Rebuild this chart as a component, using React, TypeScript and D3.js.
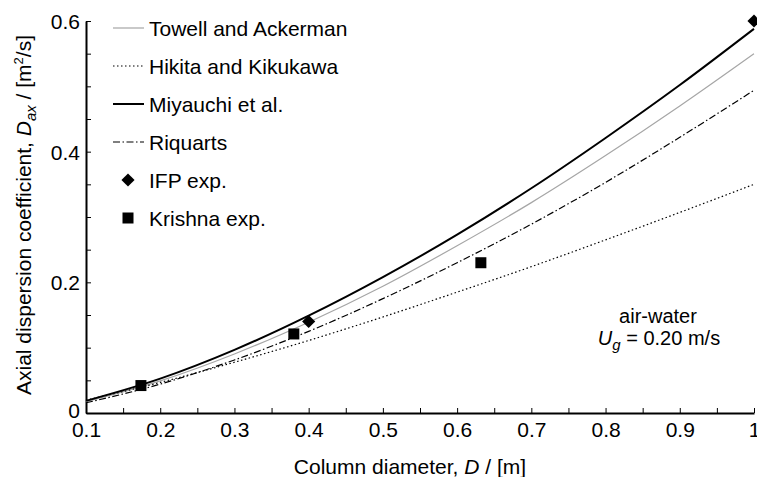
import React, { useEffect, useRef } from 'react';
import * as d3 from 'd3';

// Column diameters (m) at which the correlations were read
const diameters = [0.1, 0.2, 0.3, 0.4, 0.5, 0.6, 0.7, 0.8, 0.9, 1.0];

// Axial dispersion coefficient (m2/s) per correlation
const towellAckerman = [0.0174, 0.0492, 0.0904, 0.139, 0.194, 0.256, 0.322, 0.394, 0.47, 0.55];
const hikitaKikukawa = [0.0197, 0.0468, 0.0777, 0.111, 0.147, 0.185, 0.224, 0.265, 0.307, 0.35];
const miyauchi = [0.0186, 0.0526, 0.0966, 0.149, 0.208, 0.273, 0.344, 0.421, 0.502, 0.588];
const riquarts = [0.0156, 0.0442, 0.0812, 0.125, 0.175, 0.23, 0.289, 0.353, 0.422, 0.494];

// Experimental points
const ifpD = [0.4, 1.0];
const ifpDax = [0.14, 0.6];
const krishnaD = [0.174, 0.38, 0.632];
const krishnaDax = [0.042, 0.121, 0.23];

const xTicks = [0.1, 0.2, 0.3, 0.4, 0.5, 0.6, 0.7, 0.8, 0.9, 1];
const yTicks = [0, 0.2, 0.4, 0.6];

const FONT = 'Liberation Sans, Arial, sans-serif';
const FS = 21;

const App = () => {
  const svgRef = useRef<SVGSVGElement>(null);

  useEffect(() => {
    const W = 757;
    const H = 477;
    const margin = { top: 21, right: 3, bottom: 64, left: 86 };
    const width = W - margin.left - margin.right;
    const height = H - margin.top - margin.bottom;

    d3.select(svgRef.current).selectAll('*').remove();
    const root = d3.select(svgRef.current).attr('width', W).attr('height', H);
    const svg = root.append('g').attr('transform', `translate(${margin.left},${margin.top})`);

    const x = d3.scaleLinear().domain([0.1, 1]).range([0, width]);
    const y = d3.scaleLinear().domain([0, 0.6]).range([height, 0]);

    // Axes with inward ticks
    const xMinor = d3.range(0.15, 1, 0.1);
    const yMinor = d3.range(0.05, 0.6, 0.05).filter(v => Math.abs(v / 0.2 - Math.round(v / 0.2)) > 0.01);

    const xAxis = svg.append('g').attr('transform', `translate(0,${height})`);
    xAxis.call(
      d3.axisBottom(x).tickValues(xTicks).tickSize(-5).tickPadding(0).tickSizeOuter(0)
        .tickFormat(d => d3.format('~g')(d as number))
    );
    xAxis.append('g').call(
      d3.axisBottom(x).tickValues(xMinor).tickSize(-5).tickFormat(() => '').tickSizeOuter(0)
    ).select('.domain').remove();

    const yAxis = svg.append('g');
    yAxis.call(
      d3.axisLeft(y).tickValues(yTicks).tickSize(-5).tickPadding(6).tickSizeOuter(0)
        .tickFormat(d => d3.format('~g')(d as number))
    );
    yAxis.append('g').call(
      d3.axisLeft(y).tickValues(yMinor).tickSize(-5).tickFormat(() => '').tickSizeOuter(0)
    ).select('.domain').remove();

    svg.selectAll('.domain').attr('stroke', '#000').attr('stroke-width', 2);
    svg.selectAll('.tick line').attr('stroke', '#000').attr('stroke-width', 1);
    svg.selectAll('.tick text')
      .attr('font-family', FONT)
      .attr('font-size', FS)
      .attr('fill', '#000');
    xAxis.selectAll('.tick text').attr('y', 24).attr('dy', null);
    yAxis.selectAll('.tick text').attr('dy', d => ((d as number) === 0 ? '0.22em' : '0.35em'));

    // Correlation curves
    const series = [
      { name: 'Towell and Ackerman', values: towellAckerman, color: '#a6a6a6', width: 1.2, dash: null },
      { name: 'Hikita and Kikukawa', values: hikitaKikukawa, color: '#000', width: 1.2, dash: '1.5,2.5' },
      { name: 'Miyauchi et al.', values: miyauchi, color: '#000', width: 2, dash: null },
      { name: 'Riquarts', values: riquarts, color: '#000', width: 1.2, dash: '7,2.5,1.5,2.5' },
    ];

    const line = d3.line<number>()
      .x((_, i) => x(diameters[i]))
      .y(d => y(d))
      .curve(d3.curveMonotoneX);

    series.forEach(s => {
      svg.append('path')
        .datum(s.values)
        .attr('d', line)
        .attr('fill', 'none')
        .attr('stroke', s.color)
        .attr('stroke-width', s.width)
        .attr('stroke-dasharray', s.dash);
    });

    // Experimental markers
    const diamond = d3.symbol().type(d3.symbolDiamond2).size(110);
    svg.selectAll('.ifp')
      .data(ifpD)
      .enter()
      .append('path')
      .attr('d', diamond)
      .attr('transform', (d, i) => `translate(${x(d)},${y(ifpDax[i])})`)
      .attr('fill', '#000');

    svg.selectAll('.kr')
      .data(krishnaD)
      .enter()
      .append('rect')
      .attr('x', d => x(d) - 5.5)
      .attr('y', (d, i) => y(krishnaDax[i]) - 5.5)
      .attr('width', 11)
      .attr('height', 11)
      .attr('fill', '#000');

    // Legend
    const legend = root.append('g').attr('font-family', FONT).attr('font-size', FS);
    const rows = [
      ...series.map(s => ({ ...s, kind: 'line' })),
      { name: 'IFP exp.', kind: 'diamond' },
      { name: 'Krishna exp.', kind: 'square' },
    ] as any[];
    rows.forEach((r, i) => {
      const ry = 28 + i * 38;
      if (r.kind === 'line') {
        legend.append('line')
          .attr('x1', 113).attr('x2', 144).attr('y1', ry).attr('y2', ry)
          .attr('stroke', r.color).attr('stroke-width', r.width)
          .attr('stroke-dasharray', r.dash);
      } else if (r.kind === 'diamond') {
        legend.append('path').attr('d', diamond).attr('transform', `translate(128,${ry})`).attr('fill', '#000');
      } else {
        legend.append('rect').attr('x', 122.5).attr('y', ry - 5.5).attr('width', 11).attr('height', 11).attr('fill', '#000');
      }
      legend.append('text').attr('x', 149).attr('y', ry + 7.5).text(r.name);
    });

    // Annotation
    const ann = root.append('g').attr('font-family', FONT).attr('font-size', 20).attr('text-anchor', 'middle');
    ann.append('text').attr('x', 658).attr('y', 323).text('air-water');
    const ug = ann.append('text').attr('x', 659).attr('y', 345);
    ug.append('tspan').attr('font-style', 'italic').text('U');
    ug.append('tspan').attr('font-style', 'italic').attr('font-size', 15).attr('dy', 5).text('g');
    ug.append('tspan').attr('dy', -5).text(' = 0.20 m/s');

    // Axis titles
    const xt = root.append('text')
      .attr('x', 410).attr('y', 474)
      .attr('text-anchor', 'middle')
      .attr('font-family', FONT).attr('font-size', FS);
    xt.append('tspan').text('Column diameter, ');
    xt.append('tspan').attr('font-style', 'italic').text('D');
    xt.append('tspan').text(' / [m]');

    const yt = root.append('text')
      .attr('transform', 'translate(31,215) rotate(-90)')
      .attr('text-anchor', 'middle')
      .attr('font-family', FONT).attr('font-size', FS);
    yt.append('tspan').text('Axial dispersion coefficient,  ');
    yt.append('tspan').attr('font-style', 'italic').text('D');
    yt.append('tspan').attr('font-style', 'italic').attr('font-size', 15).attr('dy', 5).text('ax');
    yt.append('tspan').attr('dy', -5).text(' / [m');
    yt.append('tspan').attr('font-size', 13).attr('dy', -8).text('2');
    yt.append('tspan').attr('dy', 8).text('/s]');
  }, []);

  return (
    <svg ref={svgRef} style={{ position: 'absolute', left: 0, top: 0, background: '#fff' }}></svg>
  );
};

export default App;
